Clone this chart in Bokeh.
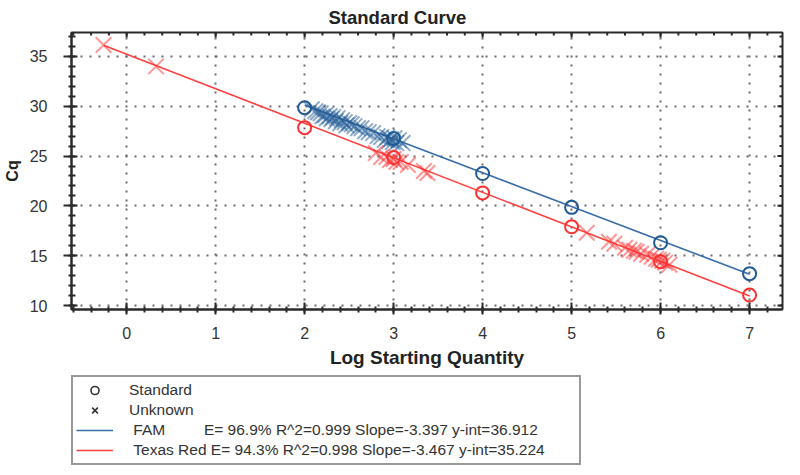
import math
from bokeh.plotting import figure
from bokeh.layouts import column
from bokeh.models import (ColumnDataSource, Range1d, LinearAxis, FixedTicker,
                          Legend, LegendItem, Grid)
from bokeh.embed import file_html
from bokeh.resources import INLINE

# ---------------- data ----------------
std_log_qty = [2, 3, 4, 5, 6, 7]
fam_std_cq = [29.85, 26.75, 23.25, 19.85, 16.3, 13.2]
tr_std_cq = [27.85, 24.85, 21.3, 17.9, 14.4, 11.05]

fam_unk_log_qty = [2.08, 2.12, 2.15, 2.18, 2.20, 2.23, 2.25, 2.28, 2.30, 2.32, 2.35, 2.37,
                   2.40, 2.42, 2.45, 2.47, 2.50, 2.53, 2.56, 2.60, 2.64, 2.68, 2.72, 2.77,
                   2.82, 2.86, 2.90, 2.93, 2.95, 2.97, 2.99, 3.01, 3.03, 3.06, 3.10]
fam_unk_cq = [29.7, 29.5, 29.4, 29.3, 29.0, 29.1, 28.8, 29.0, 28.7, 28.9, 28.5, 28.8,
              28.3, 28.6, 28.4, 28.1, 28.3, 28.2, 28.0, 27.8, 27.8, 27.5, 27.4, 27.3,
              27.0, 26.9, 26.6, 26.9, 26.5, 26.7, 26.4, 26.8, 26.3, 26.6, 26.3]

tr_unk_log_qty = [-0.26, 0.33, 2.80, 2.86, 2.92, 2.96, 3.00, 3.03, 3.08, 3.16, 3.34, 3.38,
                  5.17, 5.42, 5.48, 5.60, 5.65, 5.70, 5.73, 5.78, 5.85, 5.90, 5.95, 5.98,
                  6.02, 6.05, 6.10]
tr_unk_cq = [36.15, 34.0, 25.3, 24.9, 24.9, 24.6, 24.7, 24.4, 24.4, 24.1, 23.5, 23.3,
             17.3, 16.4, 16.2, 15.8, 15.6, 15.5, 15.4, 15.2, 15.1, 14.9, 14.7, 14.6,
             14.5, 14.3, 14.1]

fam_slope, fam_yint = -3.397, 36.912
tr_slope, tr_yint = -3.467, 35.224

x_ticks = [0, 1, 2, 3, 4, 5, 6, 7]
y_ticks = [10, 15, 20, 25, 30, 35]

NB = "\u00a0"
legend_labels = [
    "Standard",
    "Unknown",
    NB + "FAM" + NB * 9 + "E= 96.9% R^2=0.999 Slope=-3.397 y-int=36.912",
    NB + "Texas Red E= 94.3% R^2=0.998 Slope=-3.467 y-int=35.224",
]

# ---------------- style ----------------
FONT = "Liberation Sans"
BLUE = "#1F5A96"
BLUE_LINE = "#3A6CA6"
RED = "#FF3030"
RED_LINE = "#FF4040"
AX = "#2a2a2a"

XR = Range1d(-0.62, 7.37)
YR = Range1d(9.6, 37.4)

def minor_of(ticks, n=5):
    step = (ticks[1] - ticks[0]) / n
    out = []
    v = ticks[0] - step * n * 2
    while v <= ticks[-1] + step * n * 2:
        out.append(round(v, 6))
        v += step
    return out

x_minor = minor_of(x_ticks)
y_minor = minor_of(y_ticks)

p = figure(width=784, height=370, output_backend="svg", toolbar_location=None,
           x_range=XR, y_range=YR,
           min_border_left=69, min_border_right=2, min_border_top=25,
           min_border_bottom=61, x_axis_type=None, y_axis_type=None)
p.frame_align = False
p.background_fill_color = "white"
p.border_fill_color = "white"
p.outline_line_color = AX
p.outline_line_width = 2

p.title.text = "Standard Curve"
p.title.align = "left"
p.title.offset = 257
p.title.standoff = 9
p.title.text_font = FONT
p.title.text_font_size = "18.5px"
p.title.text_font_style = "bold"
p.title.text_color = "#222222"

def make_axis(ticks, minor, label):
    ax = LinearAxis(ticker=FixedTicker(ticks=ticks, minor_ticks=minor))
    ax.axis_line_color = AX
    ax.axis_line_width = 2
    ax.major_tick_line_color = AX
    ax.minor_tick_line_color = AX
    ax.major_tick_line_width = 2
    ax.minor_tick_line_width = 2
    ax.major_label_text_font = FONT
    ax.major_label_text_color = "#333333"
    ax.axis_label_text_font = FONT
    ax.axis_label_text_font_style = "bold"
    ax.axis_label_text_color = "#222222"
    ax.axis_label = label
    return ax

xb = make_axis(x_ticks, x_minor, "Log Starting Quantity")
xb.major_tick_in, xb.major_tick_out = 7, 5
xb.minor_tick_in, xb.minor_tick_out = 3, 3
xb.major_label_standoff = 12
xb.major_label_text_font_size = "16px"
xb.axis_label_text_font_size = "19px"
xb.axis_label_standoff = 5
p.add_layout(xb, "below")

yl = make_axis(y_ticks, y_minor, "Cq")
yl.major_tick_in, yl.major_tick_out = 6, 8
yl.minor_tick_in, yl.minor_tick_out = 4, 3
yl.major_label_standoff = 16
yl.major_label_text_font_size = "16px"
yl.axis_label_text_font_size = "16px"
yl.axis_label_standoff = 6
p.add_layout(yl, "left")

for dim, ax in ((0, xb), (1, yl)):
    g = Grid(dimension=dim, ticker=FixedTicker(ticks=ax.ticker.ticks))
    g.grid_line_color = "#6a6a6a"
    g.grid_line_width = 2
    g.grid_line_dash = "2 7"
    p.add_layout(g)

# inner tick marks on the top and right frame edges (clipped half-dashes)
x_minor_in = [v for v in x_minor if XR.start < v < XR.end]
y_minor_in = [v for v in y_minor if YR.start < v < YR.end]
p.scatter(x_ticks, [YR.end] * len(x_ticks), marker="dash", angle=math.pi / 2,
          size=10, line_color=AX, line_width=2)
p.scatter(x_minor_in, [YR.end] * len(x_minor_in), marker="dash", angle=math.pi / 2,
          size=6, line_color=AX, line_width=2)
p.scatter([XR.end] * len(y_ticks), y_ticks, marker="dash", size=10,
          line_color=AX, line_width=2)
p.scatter([XR.end] * len(y_minor_in), y_minor_in, marker="dash", size=6,
          line_color=AX, line_width=2)

# ---------------- regression lines ----------------
fam_all_x = std_log_qty + fam_unk_log_qty
tr_all_x = std_log_qty + tr_unk_log_qty
fam_lx = [min(fam_all_x), max(fam_all_x)]
tr_lx = [min(tr_all_x), max(tr_all_x)]
p.line(fam_lx, [fam_slope * v + fam_yint for v in fam_lx],
       line_color=BLUE_LINE, line_width=1.6)
p.line(tr_lx, [tr_slope * v + tr_yint for v in tr_lx],
       line_color=RED_LINE, line_width=1.6)

# ---------------- unknowns ----------------
p.scatter(fam_unk_log_qty, fam_unk_cq, marker="x", size=22, line_color=BLUE,
          line_width=2, line_alpha=0.5)
p.scatter(tr_unk_log_qty, tr_unk_cq, marker="x", size=22, line_color=RED,
          line_width=2, line_alpha=0.5)

# ---------------- standards ----------------
p.scatter(std_log_qty, fam_std_cq, marker="circle", size=13, fill_color=None,
          line_color=BLUE, line_width=2)
p.scatter(std_log_qty, tr_std_cq, marker="circle", size=13, fill_color=None,
          line_color=RED, line_width=2)

# ---------------- legend panel ----------------
lg = figure(width=784, height=97, output_backend="svg", toolbar_location=None,
            x_range=Range1d(0, 1), y_range=Range1d(0, 1),
            min_border_left=0, min_border_right=0, min_border_top=0,
            min_border_bottom=0, x_axis_type=None, y_axis_type=None)
lg.frame_align = False
lg.outline_line_color = None
lg.background_fill_color = "white"
lg.border_fill_color = "white"

nan_src = ColumnDataSource(data=dict(x=[float("nan")], y=[float("nan")]))
k_std = lg.scatter("x", "y", source=nan_src, marker="circle", fill_color=None,
                   line_color="#333333", line_width=1.6)
k_unk = lg.scatter("x", "y", source=nan_src, marker="x",
                   line_color="#333333", line_width=1.6)
k_fam = lg.line("x", "y", source=nan_src, line_color=BLUE_LINE, line_width=1.6)
k_tr = lg.line("x", "y", source=nan_src, line_color=RED_LINE, line_width=1.6)

legend = Legend(items=[
    LegendItem(label=legend_labels[0], renderers=[k_std]),
    LegendItem(label=legend_labels[1], renderers=[k_unk]),
    LegendItem(label=legend_labels[2], renderers=[k_fam]),
    LegendItem(label=legend_labels[3], renderers=[k_tr]),
], location=(71, 2), orientation="vertical")
legend.label_text_font = FONT
legend.label_text_font_size = "15.5px"
legend.label_text_color = "#333333"
legend.glyph_width = 37
legend.glyph_height = 20
legend.label_height = 20
legend.label_width = 447
legend.label_standoff = 16
legend.spacing = 0
legend.padding = 3
legend.margin = 0
legend.border_line_color = "#333333"
legend.border_line_width = 2
legend.background_fill_color = "white"
legend.background_fill_alpha = 1
lg.add_layout(legend, "center")

layout = column(p, lg, spacing=0)
open("out.html", "w").write(file_html(layout, INLINE))
